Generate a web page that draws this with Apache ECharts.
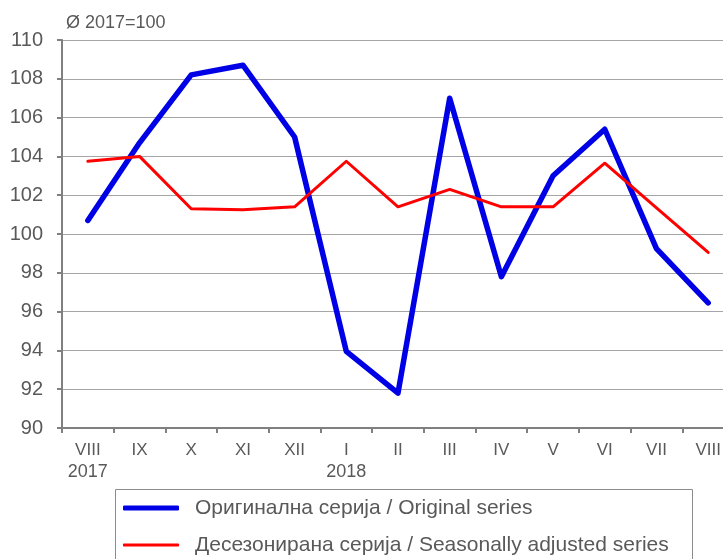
<!DOCTYPE html>
<html>
<head>
<meta charset="utf-8">
<script src="https://cdn.jsdelivr.net/npm/echarts@6/dist/echarts.min.js"></script>
<style>
  html, body { margin: 0; padding: 0; background: #fff; overflow: hidden; }
  /* графикон је шири од прозора, десна ивица је одсечена као у оригиналу */
  #chart { width: 734px; height: 559px; }
</style>
</head>
<body>
<div id="chart"></div>
<script>
const months = ['VIII', 'IX', 'X', 'XI', 'XII', 'I', 'II', 'III', 'IV', 'V', 'VI', 'VII', 'VIII']
const years = ['2017', '', '', '', '', '2018', '', '', '', '', '', '', '']
const original = [100.7, 104.7, 108.2, 108.7, 105.0, 93.95, 91.8, 107.0, 97.8, 103.0, 105.4, 99.25, 96.45]
const adjusted = [103.75, 104.0, 101.3, 101.25, 101.4, 103.75, 101.4, 102.3, 101.4, 101.4, 103.65, 101.35, 99.05]
const seriesNames = ['Оригинална серија / Original series', 'Десезонирана серија / Seasonally adjusted series']

const legendText = { fontSize: 21, lineHeight: 22, color: '#595959', padding: [0, 0, 0, 11] }

const chart = echarts.init(document.getElementById('chart'))
chart.setOption({
  animation: false,
  textStyle: { fontFamily: 'Liberation Sans, Arial, sans-serif' },
  title: {
    text: 'Ø 2017=100',
    left: 61,
    top: 9,
    textStyle: { fontSize: 18, fontWeight: 'normal', color: '#595959' }
  },
  grid: { left: 62, right: 0, top: 40, bottom: 131 },
  // рамка легенде
  graphic: [{
    type: 'rect',
    shape: { x: 115.5, y: 489.5, width: 577, height: 100 },
    style: { fill: 'none', stroke: '#8c8c8c', lineWidth: 1 }
  }],
  legend: [
    {
      left: 123,
      top: 497,
      padding: 0,
      itemWidth: 56,
      itemHeight: 5,
      icon: 'roundRect',
      textStyle: legendText,
      data: [seriesNames[0]]
    },
    {
      left: 123,
      top: 534,
      padding: 0,
      itemWidth: 56,
      itemHeight: 3,
      icon: 'roundRect',
      textStyle: legendText,
      data: [seriesNames[1]]
    }
  ],
  xAxis: {
    type: 'category',
    data: months,
    boundaryGap: true,
    axisLine: { lineStyle: { color: '#808080', width: 2 } },
    axisTick: { show: true, interval: 0, length: 5, lineStyle: { color: '#808080', width: 2 } },
    axisLabel: {
      interval: 0,
      color: '#595959',
      fontSize: 17,
      margin: 11,
      lineHeight: 22,
      formatter: (v, i) => (years[i] ? v + '\n{y|' + years[i] + '}' : v),
      rich: { y: { fontSize: 18, color: '#595959', lineHeight: 22 } }
    }
  },
  yAxis: {
    type: 'value',
    min: 90,
    max: 110,
    interval: 2,
    axisLine: { show: true, lineStyle: { color: '#808080', width: 2 } },
    axisTick: { show: true, length: 5, lineStyle: { color: '#808080', width: 2 } },
    axisLabel: { color: '#595959', fontSize: 20, margin: 19 },
    splitLine: { lineStyle: { color: '#a6a6a6', width: 1 } }
  },
  series: [
    {
      name: seriesNames[0],
      type: 'line',
      data: original,
      symbol: 'none',
      lineStyle: { color: '#0000e6', width: 5.5, join: 'round', cap: 'round' },
      itemStyle: { color: '#0000e6' },
      z: 3
    },
    {
      name: seriesNames[1],
      type: 'line',
      data: adjusted,
      symbol: 'none',
      lineStyle: { color: '#ff0000', width: 3, join: 'round', cap: 'round' },
      itemStyle: { color: '#ff0000' },
      z: 4
    }
  ]
})
</script>
</body>
</html>
